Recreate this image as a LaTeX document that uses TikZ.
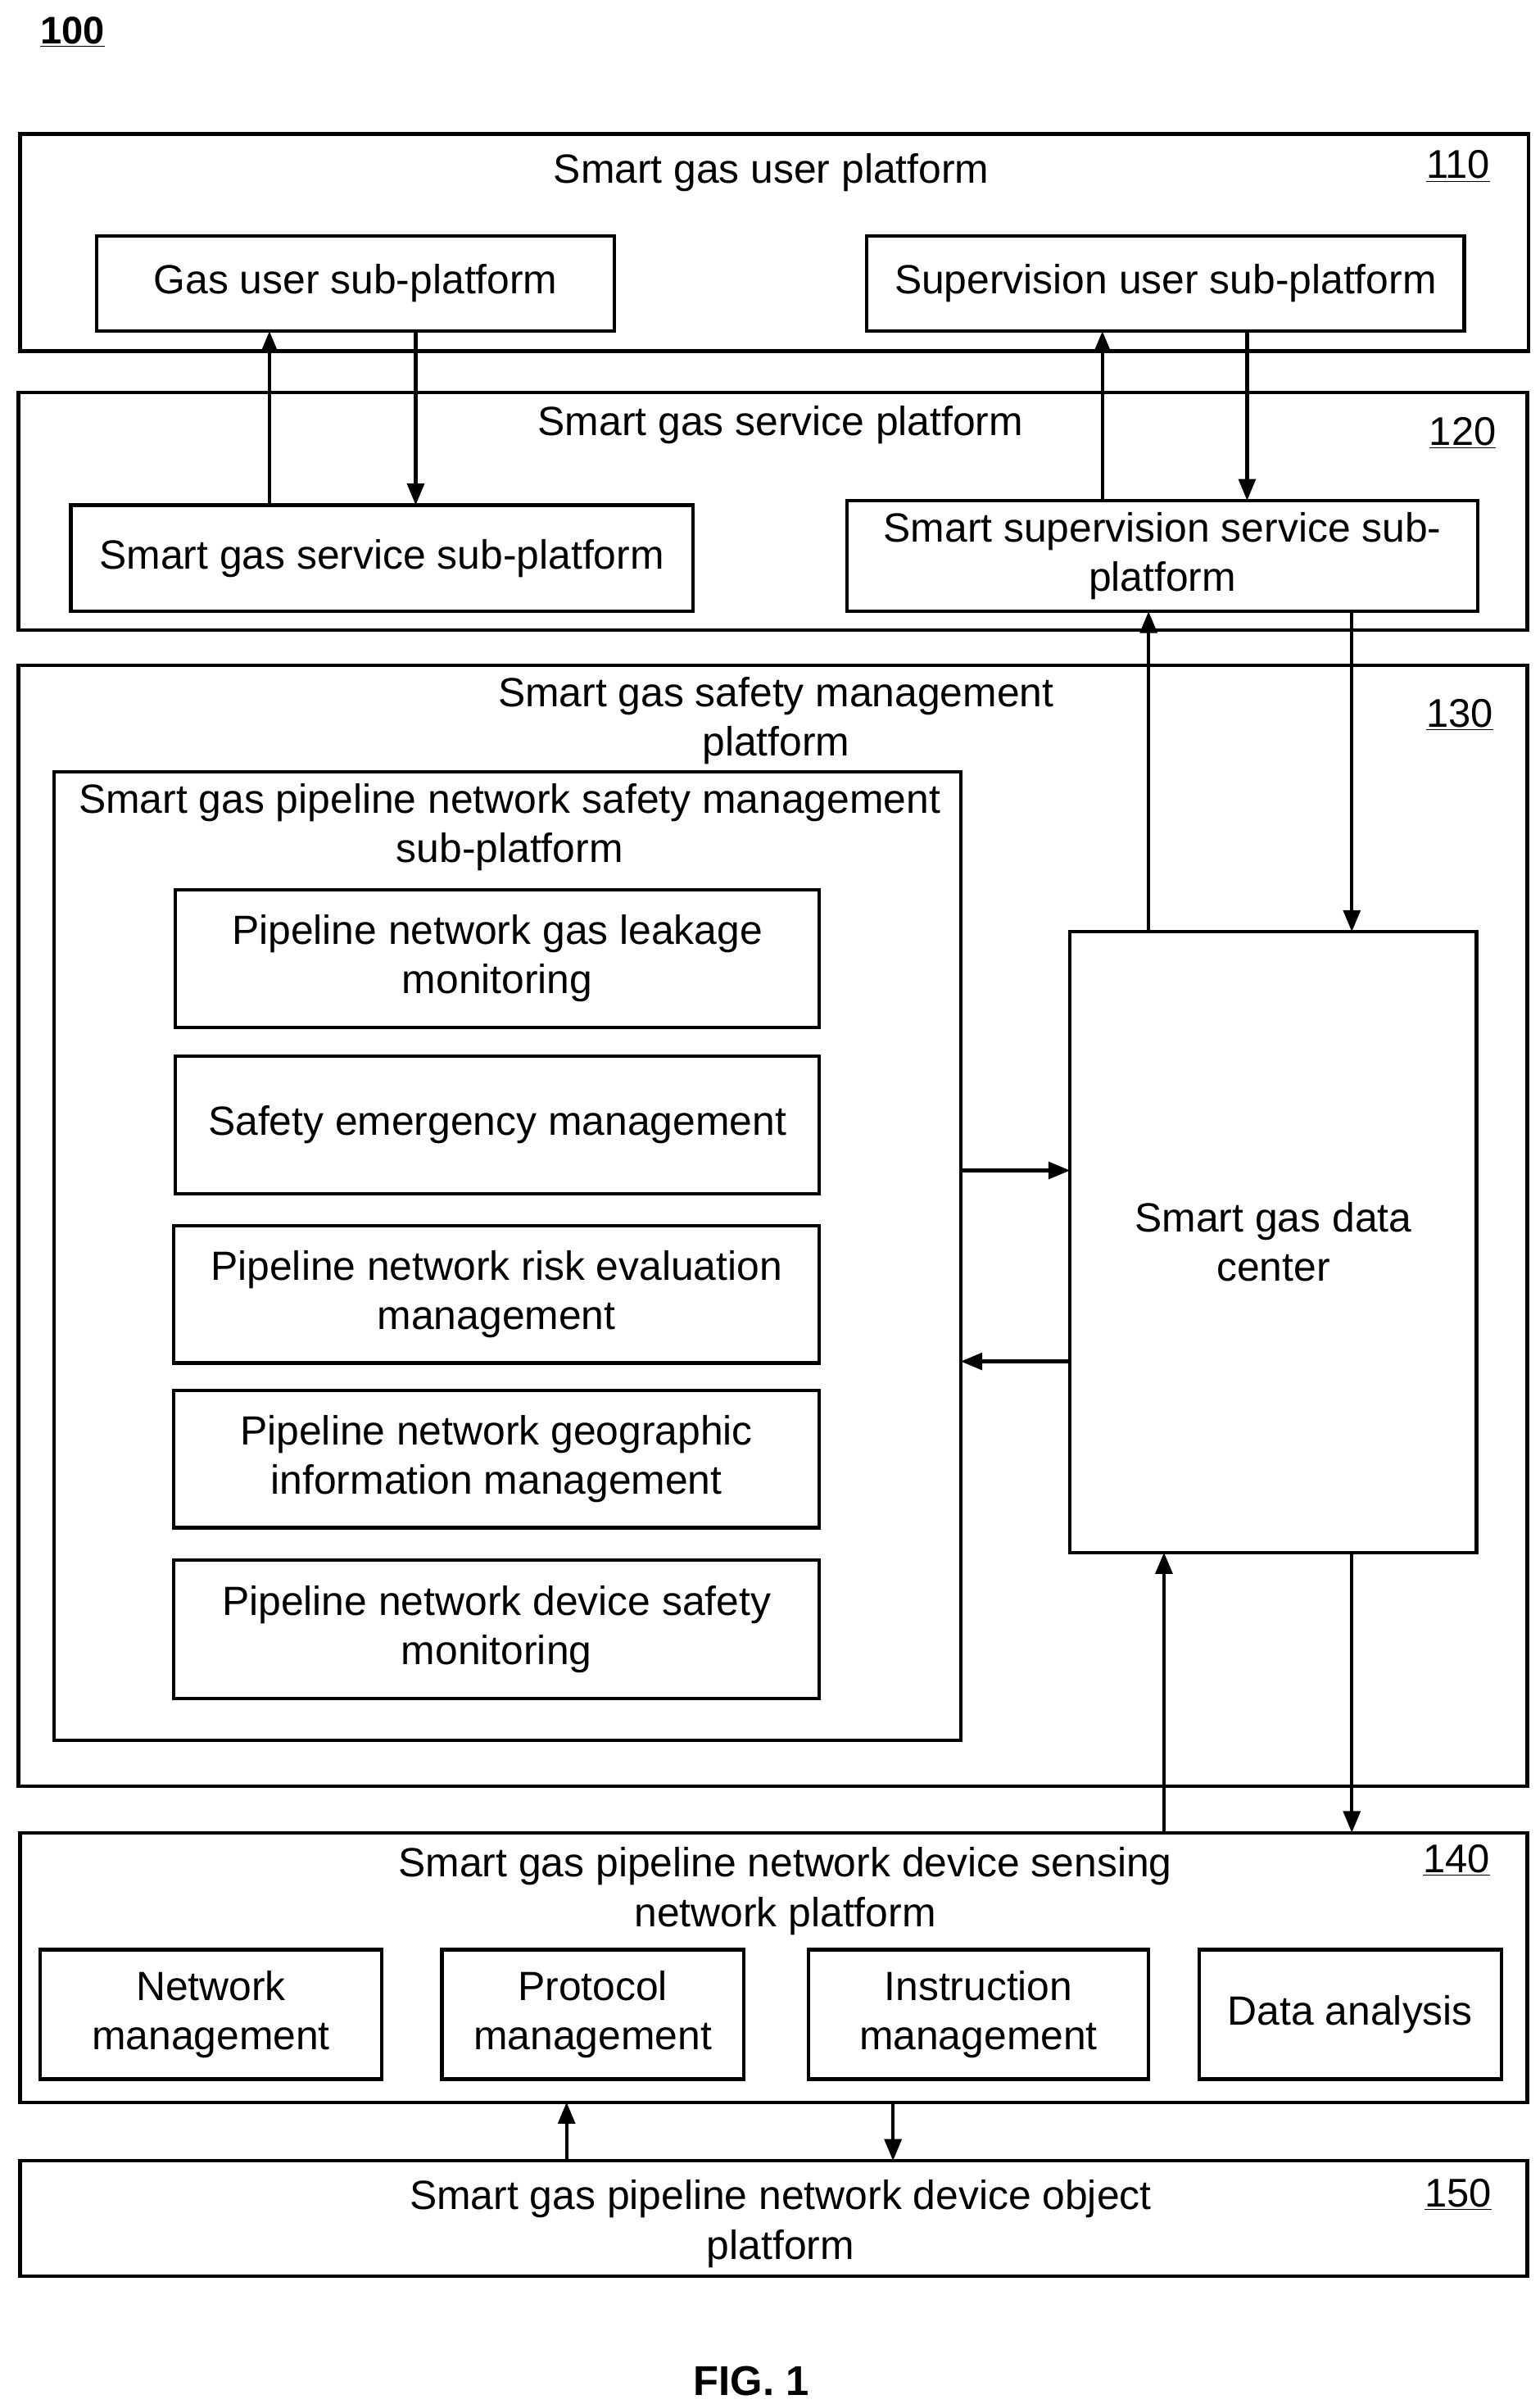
\documentclass[tikz,border=0pt]{standalone}
\usepackage{fontspec}
\setmainfont{Liberation Sans}
\usetikzlibrary{arrows.meta}
\begin{document}
\begin{tikzpicture}[x=1pt,y=-1pt,
 box/.style={draw,line width=2.2pt,inner sep=0pt,outer sep=0pt,align=center,font=\fontsize{26.5}{32}\selectfont},
 lbl/.style={align=center,font=\fontsize{26.5}{32}\selectfont,inner sep=0pt},
 num/.style={font=\fontsize{26}{28}\selectfont,inner sep=0pt},
 arr/.style={line width=2.2pt,-{Triangle[length=14pt,width=11pt]}}]
\useasboundingbox (0,0) rectangle (1000,1561);
\node[num,font=\bfseries\fontsize{25}{28}\selectfont] (n100) at (47,21) {\underline{100}};
% platforms
\node[box,minimum width=980,minimum height=141] (p110) at (503,157.5) {};
\node[lbl] (t110) at (501,112) {Smart gas user platform};
\node[num] (l110) at (947,108) {\underline{110}};
\node[box,minimum width=336,minimum height=62] (gus) at (231,184) {Gas user sub-platform};
\node[box,minimum width=388,minimum height=62] (sus) at (757,184) {Supervision user sub-platform};

\node[box,minimum width=980,minimum height=154] (p120) at (502,332) {};
\node[lbl] (t120) at (507,276) {Smart gas service platform};
\node[num] (l120) at (950,281) {\underline{120}};
\node[box,minimum width=404,minimum height=69] (gsub) at (248,362.5) {Smart gas service sub-platform};
\node[box,minimum width=410,minimum height=72] (ssub) at (755,361) {Smart supervision service sub-\\platform};

\node[box,minimum width=980,minimum height=728] (p130) at (502,796) {};
\node[lbl] (t130) at (504,468) {Smart gas safety management\\platform};
\node[num] (l130) at (948,464) {\underline{130}};
\node[box,minimum width=589,minimum height=629] (psub) at (329.5,815.5) {};
\node[lbl] (tpsub) at (331,537) {Smart gas pipeline network safety management\\sub-platform};
\node[box,minimum width=418,minimum height=89] (m1) at (323,622.5) {Pipeline network gas leakage\\monitoring};
\node[box,minimum width=418,minimum height=89] (m2) at (323,730.5) {Safety emergency management};
\node[box,minimum width=419,minimum height=89] (m3) at (322.5,840.5) {Pipeline network risk evaluation\\management};
\node[box,minimum width=419,minimum height=89] (m4) at (322.5,947.5) {Pipeline network geographic\\information management};
\node[box,minimum width=419,minimum height=90] (m5) at (322.5,1058) {Pipeline network device safety\\monitoring};
\node[box,minimum width=264,minimum height=403] (dc) at (827,806.5) {Smart gas data\\center};

\node[box,minimum width=979,minimum height=175] (p140) at (502.5,1277.5) {};
\node[lbl] (t140) at (510,1228) {Smart gas pipeline network device sensing\\network platform};
\node[num] (l140) at (946,1208) {\underline{140}};
\node[box,minimum width=222,minimum height=84] (s1) at (137,1308) {Network\\management};
\node[box,minimum width=196,minimum height=84] (s2) at (385,1308) {Protocol\\management};
\node[box,minimum width=221,minimum height=84] (s3) at (635.5,1308) {Instruction\\management};
\node[box,minimum width=196,minimum height=84] (s4) at (877,1308) {Data analysis};

\node[box,minimum width=979,minimum height=75] (p150) at (502.5,1440.5) {};
\node[lbl] (t150) at (507,1444) {Smart gas pipeline network device object\\platform};
\node[num] (l150) at (947,1425) {\underline{150}};
\node[font=\bfseries\fontsize{27}{28}\selectfont] (fig) at (488,1546) {FIG. 1};

% x coordinates
\coordinate (x175) at (175,0); \coordinate (x270) at (270,0);
\coordinate (x716) at (716,0); \coordinate (x810) at (810,0);
\coordinate (x746) at (746,0); \coordinate (x878) at (878,0);
\coordinate (x756) at (756,0);
\coordinate (x368) at (368,0); \coordinate (x580) at (580,0);
\coordinate (y760) at (0,760); \coordinate (y884) at (0,884);
% arrows
\draw[arr] (gsub.north -| x175) -- (gus.south -| x175);
\draw[arr] (gus.south -| x270) -- (gsub.north -| x270);
\draw[arr] (ssub.north -| x716) -- (sus.south -| x716);
\draw[arr] (sus.south -| x810) -- (ssub.north -| x810);
\draw[arr] (dc.north -| x746) -- (ssub.south -| x746);
\draw[arr] (ssub.south -| x878) -- (dc.north -| x878);
\draw[arr] (psub.east |- y760) -- (dc.west |- y760);
\draw[arr] (dc.west |- y884) -- (psub.east |- y884);
\draw[arr] (p140.north -| x756) -- (dc.south -| x756);
\draw[arr] (dc.south -| x878) -- (p140.north -| x878);
\draw[arr] (p150.north -| x368) -- (p140.south -| x368);
\draw[arr] (p140.south -| x580) -- (p150.north -| x580);
\end{tikzpicture}
\end{document}
